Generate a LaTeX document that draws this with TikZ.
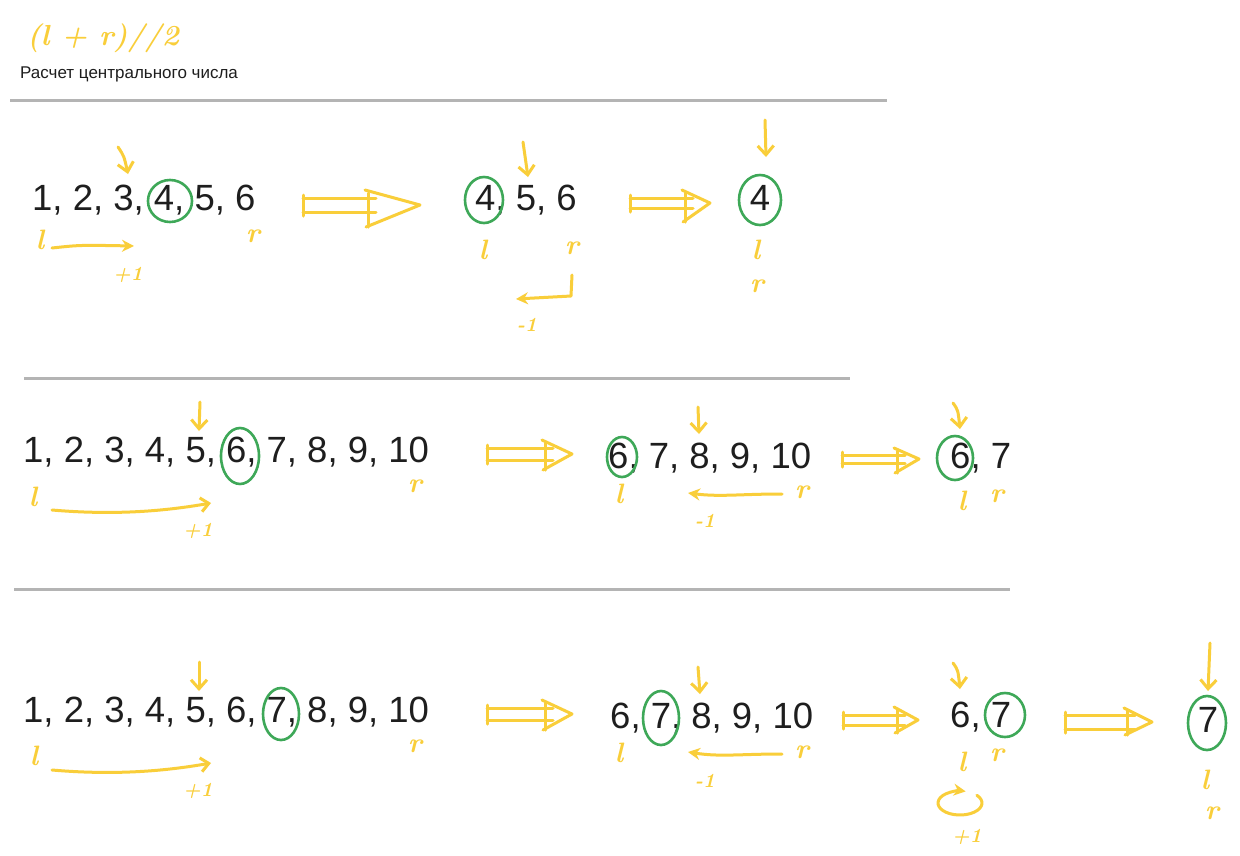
\documentclass[tikz,border=0pt]{standalone}
\usepackage{fontspec}
\newfontfamily\numfont{Liberation Sans}
\usetikzlibrary{arrows.meta}
\definecolor{hy}{RGB}{249,206,58}
\definecolor{hg}{RGB}{62,168,88}
\definecolor{ink}{RGB}{30,30,30}
\definecolor{rulegray}{RGB}{180,180,180}
\tikzset{
  hand/.style={draw=hy, line width=3pt, line cap=round, line join=round},
  ring/.style={draw=hg, line width=2.6pt},
  seq/.style={anchor=base west, inner sep=0pt, text=ink, font=\numfont\fontsize{36.5}{40}\selectfont},
  seqc/.style={seq, anchor=base},
  hl/.style={text=hy, inner sep=0pt, font=\fontsize{28}{30}\selectfont\bfseries\itshape},
  hn/.style={text=hy, inner sep=0pt, font=\fontsize{20}{22}\selectfont\bfseries\itshape},
  sep/.style={draw=rulegray, line width=3pt},
  downtip/.style={-{Straight Barb[length=9pt,width=16pt]}},
  opentip/.style={-{Straight Barb[length=8pt,width=14pt]}},
  filltip/.style={-{Stealth[length=12pt,width=12pt]}},
}
\newcommand{\blockarr}[7]{% x1, xb, xt, y, gap, headup, headdown
  \draw[hand] (#1,#4-#5) -- (#2+8,#4-#5);
  \draw[hand] (#1,#4+#5) -- (#2+8,#4+#5);
  \draw[hand] (#1,#4-#5-3) -- (#1,#4+#5+4);
  \draw[hand] (#2-3,#4-#6) -- (#3,#4) -- (#2-2,#4+#7);
  \draw[hand] (#2,#4-#6+3) -- (#2,#4+#7);
}
\begin{document}
\begin{tikzpicture}[x=1pt,y=-1pt]
\useasboundingbox[fill=white] (0,0) rectangle (1240,855);

% header
\node[text=hy, inner sep=0pt, anchor=west, font=\fontsize{29}{31}\selectfont\bfseries\itshape] (formula) at (27,38) {(l + r)//2};
\node[anchor=base west, inner sep=0pt, text=ink, font=\numfont\fontsize{17}{19}\selectfont] (caption) at (20,78) {Расчет центрального числа};

% separators
\draw[sep] (10,100) -- (887,100);
\draw[sep] (24,378) -- (850,378);
\draw[sep] (14,589) -- (1010,589);

% ===== Row 1 =====
\node[seq] (s1a) at (32,210) {1, 2, 3, 4, 5, 6};
\node[seq] (s1b) at (475,210) {4, 5, 6};
\node[seqc] (s1c) at (760,210) {4};
\draw[ring] (170,201) ellipse[x radius=22, y radius=21];
\draw[ring] (484,200) ellipse[x radius=19, y radius=23];
\draw[ring] (760,200) ellipse[x radius=21, y radius=25];
\draw[hand,downtip] (118,147) .. controls (124,156) .. (128,174);
\draw[hand,downtip] (523,142) -- (528,177);
\draw[hand,downtip] (765,120) -- (766,157);
\node[hl] (l1a) at (40,240) {l};
\node[hl] (r1a) at (253,236) {r};
\node[hl] (l1b) at (483,250) {l};
\node[hl] (r1b) at (572,248) {r};
\node[hl] (l1c) at (756,250) {l};
\node[hl] (r1c) at (757,286) {r};
\draw[hand,filltip] (52,248) .. controls (80,245) .. (134,246);
\node[hn] (p1a) at (128,275) {+1};
\draw[hand,filltip] (572,275) -- (571,296) -- (516,299);
\node[hn] (m1b) at (527,325) {-1};
\blockarr{303}{368}{420}{205}{7}{15}{22}
\blockarr{630}{685}{710}{203}{5}{13}{19}

% ===== Row 2 =====
\node[seq] (s2a) at (23,462) {1, 2, 3, 4, 5, 6, 7, 8, 9, 10};
\node[seq] (s2b) at (608,468) {6, 7, 8, 9, 10};
\node[seq] (s2c) at (950,468) {6, 7};
\draw[ring] (240,456) ellipse[x radius=19, y radius=28];
\draw[ring] (622,457) ellipse[x radius=15, y radius=20];
\draw[ring] (955,458) ellipse[x radius=18, y radius=22];
\draw[hand,downtip] (200,402) -- (199,431);
\draw[hand,downtip] (698,407) -- (699,434);
\draw[hand,downtip] (953,403) .. controls (958,410) .. (960,429);
\node[hl] (l2a) at (33,497) {l};
\node[hl] (r2a) at (415,486) {r};
\node[hl] (l2b) at (619,494) {l};
\node[hl] (r2b) at (802,492) {r};
\node[hl] (l2c) at (962,501) {l};
\node[hl] (r2c) at (997,496) {r};
\draw[hand,opentip] (52,510) .. controls (110,515) and (160,512) .. (211,503);
\node[hn] (p2a) at (198,531) {+1};
\draw[hand,filltip] (782,494) .. controls (740,494) and (720,497) .. (688,493);
\node[hn] (m2b) at (705,521) {-1};
\blockarr{487}{545}{572}{454}{6}{14}{16}
\blockarr{842}{897}{919}{459}{4}{11}{14}

% ===== Row 3 =====
\node[seq] (s3a) at (23,722) {1, 2, 3, 4, 5, 6, 7, 8, 9, 10};
\node[seq] (s3b) at (610,728) {6, 7, 8, 9, 10};
\node[seq] (s3c) at (950,727) {6, 7};
\node[seqc] (s3d) at (1208,732) {7};
\draw[ring] (281,714) ellipse[x radius=18, y radius=26];
\draw[ring] (661,718) ellipse[x radius=18, y radius=27];
\draw[ring] (1005,715) ellipse[x radius=20, y radius=22];
\draw[ring] (1207,723) ellipse[x radius=19, y radius=27];
\draw[hand,downtip] (199,662) -- (199,691);
\draw[hand,downtip] (698,667) -- (700,694);
\draw[hand,downtip] (953,663) .. controls (958,670) .. (960,689);
\draw[hand,downtip] (1210,643) -- (1208,691);
\node[hl] (l3a) at (34,756) {l};
\node[hl] (r3a) at (415,746) {r};
\node[hl] (l3b) at (619,753) {l};
\node[hl] (r3b) at (802,752) {r};
\node[hl] (l3c) at (962,762) {l};
\node[hl] (r3c) at (997,755) {r};
\node[hl] (l3d) at (1205,780) {l};
\node[hl] (r3d) at (1212,813) {r};
\draw[hand,opentip] (52,770) .. controls (110,775) and (160,772) .. (211,763);
\node[hn] (p3a) at (198,791) {+1};
\draw[hand,filltip] (782,754) .. controls (740,754) and (720,757) .. (688,752);
\node[hn] (m3b) at (705,781) {-1};
\draw[hand,filltip] (960,803) ++(-40:22 and 12) arc[start angle=-40, end angle=285, x radius=22, y radius=12];
\node[hn] (p3c) at (967,837) {+1};
\blockarr{487}{545}{572}{714}{6}{14}{16}
\blockarr{843}{897}{918}{720}{5}{13}{13}
\blockarr{1065}{1127}{1152}{722}{7}{14}{13}
\end{tikzpicture}
\end{document}
